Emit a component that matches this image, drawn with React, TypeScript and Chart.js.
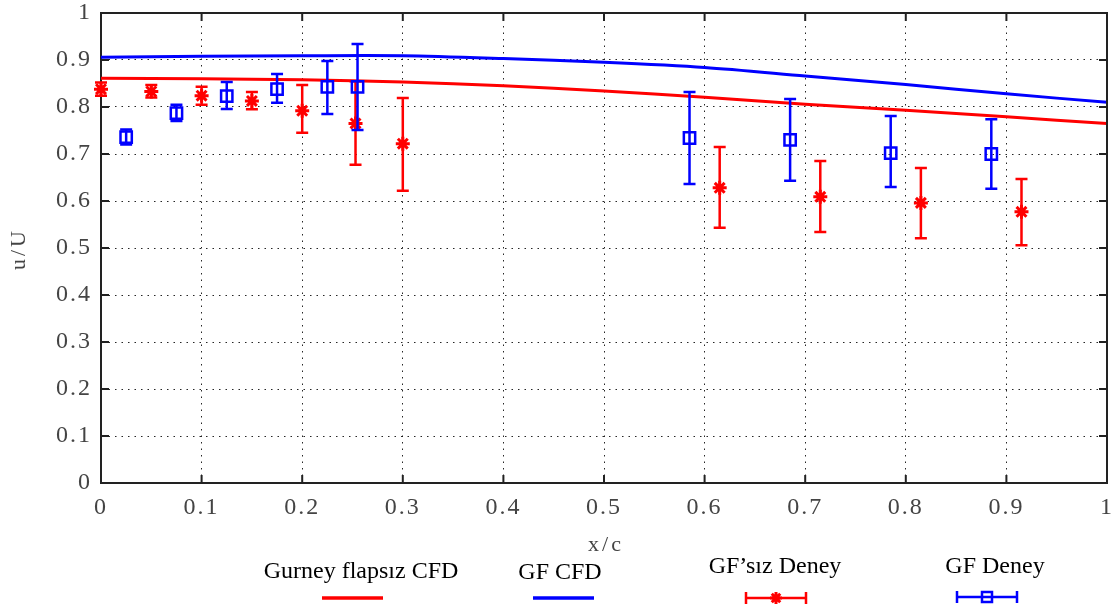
import React, { useEffect, useRef } from 'react';
import { Chart, registerables } from 'chart.js';

Chart.register(...registerables);

// ---- data ----
const cfdX = [0, 0.1, 0.2, 0.3, 0.4, 0.5, 0.6, 0.7, 0.8, 0.9, 1.0];
const gurneyFreeCfd = [0.861, 0.860, 0.858, 0.853, 0.845, 0.834, 0.821, 0.806, 0.793, 0.779, 0.765];
const gfCfd = [0.906, 0.908, 0.909, 0.909, 0.903, 0.895, 0.884, 0.866, 0.848, 0.828, 0.810];

const noGfExpX = [0, 0.05, 0.1, 0.15, 0.2, 0.253, 0.3, 0.615, 0.715, 0.815, 0.915];
const noGfExpY = [0.838, 0.833, 0.824, 0.813, 0.792, 0.765, 0.722, 0.628, 0.609, 0.596, 0.577];
const noGfExpLow = [0.824, 0.820, 0.805, 0.795, 0.745, 0.677, 0.622, 0.543, 0.534, 0.521, 0.506];
const noGfExpHigh = [0.852, 0.847, 0.843, 0.832, 0.847, 0.855, 0.819, 0.715, 0.685, 0.670, 0.647];

const gfExpX = [0.025, 0.075, 0.125, 0.175, 0.225, 0.255, 0.585, 0.685, 0.785, 0.885];
const gfExpY = [0.736, 0.787, 0.823, 0.838, 0.843, 0.843, 0.734, 0.730, 0.702, 0.700];
const gfExpLow = [0.720, 0.770, 0.796, 0.809, 0.785, 0.751, 0.636, 0.643, 0.630, 0.626];
const gfExpHigh = [0.752, 0.805, 0.853, 0.870, 0.898, 0.934, 0.832, 0.817, 0.781, 0.774];

const legendLabels = ['Gurney flapsız CFD', 'GF CFD', 'GF’sız Deney', 'GF Deney'];
const xTitle = 'x/c';
const yTitle = 'u/U';

const RED = '#ff0000';
const BLUE = '#0000ff';
const SERIF = '"Liberation Serif", "Times New Roman", serif';

const fmt = (v: number | string) => {
  const n = Number(v);
  if (Math.abs(n) < 1e-9) return '0';
  if (Math.abs(n - 1) < 1e-9) return '1';
  return n.toFixed(1);
};

const errorBarPlugin = {
  id: 'errbars',
  beforeDatasetDraw(chart: any, args: any) {
    const ds = chart.data.datasets[args.index] as any;
    if (!ds.errLow) return;
    const xs = chart.scales.x;
    const ys = chart.scales.y;
    const ctx = chart.ctx as CanvasRenderingContext2D;
    ctx.save();
    ctx.strokeStyle = ds.borderColor;
    ctx.lineWidth = 2.5;
    ds.data.forEach((p: any, i: number) => {
      const px = xs.getPixelForValue(p.x);
      const yl = ys.getPixelForValue(ds.errLow[i]);
      const yh = ys.getPixelForValue(ds.errHigh[i]);
      ctx.beginPath();
      ctx.moveTo(px, yl);
      ctx.lineTo(px, yh);
      ctx.moveTo(px - 6, yl);
      ctx.lineTo(px + 6, yl);
      ctx.moveTo(px - 6, yh);
      ctx.lineTo(px + 6, yh);
      ctx.stroke();
    });
    ctx.restore();
  },
};

const drawStar = (ctx: CanvasRenderingContext2D, x: number, y: number, r: number) => {
  ctx.beginPath();
  ctx.moveTo(x - r, y);
  ctx.lineTo(x + r, y);
  ctx.moveTo(x, y - r);
  ctx.lineTo(x, y + r);
  const d = r * Math.SQRT1_2;
  ctx.moveTo(x - d, y - d);
  ctx.lineTo(x + d, y + d);
  ctx.moveTo(x - d, y + d);
  ctx.lineTo(x + d, y - d);
  ctx.stroke();
};

const decorPlugin = {
  id: 'decor',
  beforeDraw(chart: any) {
    (chart.ctx as any).letterSpacing = '2px';
  },
  beforeDatasetsDraw(chart: any) {
    (chart.ctx as any).letterSpacing = '0px';
  },
  afterDraw(chart: any) {
    const ctx = chart.ctx as CanvasRenderingContext2D;
    const { left, right, top, bottom } = chart.chartArea;
    const xs = chart.scales.x;
    const ys = chart.scales.y;
    ctx.save();
    // frame top & right
    ctx.strokeStyle = '#222';
    ctx.lineWidth = 2;
    ctx.beginPath();
    ctx.moveTo(left - 1, top);
    ctx.lineTo(right, top);
    ctx.lineTo(right, bottom + 1);
    ctx.stroke();
    // inward ticks
    ctx.beginPath();
    xs.ticks.forEach((t: any) => {
      const px = xs.getPixelForValue(t.value);
      ctx.moveTo(px, bottom);
      ctx.lineTo(px, bottom - 8);
      ctx.moveTo(px, top);
      ctx.lineTo(px, top + 8);
    });
    ys.ticks.forEach((t: any) => {
      const py = ys.getPixelForValue(t.value);
      ctx.moveTo(left, py);
      ctx.lineTo(left + 8, py);
      ctx.moveTo(right, py);
      ctx.lineTo(right - 8, py);
    });
    ctx.stroke();

    // axis titles
    (ctx as any).letterSpacing = '3px';
    ctx.fillStyle = '#444';
    ctx.font = `22px ${SERIF}`;
    ctx.textAlign = 'center';
    ctx.textBaseline = 'middle';
    ctx.fillText(xTitle, 606, 545);
    ctx.save();
    ctx.translate(19, 249);
    ctx.rotate(-Math.PI / 2);
    ctx.fillText(yTitle, 0, 0);
    ctx.restore();

    // legend
    (ctx as any).letterSpacing = '0px';
    ctx.fillStyle = '#000';
    ctx.font = `24px ${SERIF}`;
    const textPos = [
      [361, 572],
      [560, 573],
      [775, 567],
      [995, 567],
    ];
    legendLabels.forEach((lab, i) => ctx.fillText(lab, textPos[i][0], textPos[i][1]));

    ctx.lineWidth = 3.5;
    ctx.strokeStyle = RED;
    ctx.beginPath();
    ctx.moveTo(322, 598);
    ctx.lineTo(383, 598);
    ctx.stroke();
    ctx.strokeStyle = BLUE;
    ctx.beginPath();
    ctx.moveTo(533, 598);
    ctx.lineTo(594, 598);
    ctx.stroke();

    const errSample = (x0: number, x1: number, y: number, color: string) => {
      ctx.strokeStyle = color;
      ctx.lineWidth = 2.5;
      ctx.beginPath();
      ctx.moveTo(x0, y);
      ctx.lineTo(x1, y);
      ctx.moveTo(x0, y - 6);
      ctx.lineTo(x0, y + 6);
      ctx.moveTo(x1, y - 6);
      ctx.lineTo(x1, y + 6);
      ctx.stroke();
    };
    errSample(746, 806, 598, RED);
    ctx.lineWidth = 3;
    drawStar(ctx, 776, 598, 6);
    errSample(957, 1017, 597, BLUE);
    ctx.lineWidth = 2.5;
    ctx.strokeRect(987 - 5, 597 - 5, 10, 10);
    ctx.restore();
  },
};

const zeroPad = (s: any) => {
  s.paddingTop = 0;
  s.paddingBottom = 0;
  s.paddingLeft = 0;
  s.paddingRight = 0;
};

export default function App() {
  const ref = useRef<HTMLCanvasElement | null>(null);

  useEffect(() => {
    if (!ref.current) return;
    const tickFont = { family: SERIF, size: 24 };
    const chart = new Chart(ref.current, {
      type: 'scatter',
      data: {
        datasets: [
          {
            type: 'line',
            label: legendLabels[0],
            data: cfdX.map((x, i) => ({ x, y: gurneyFreeCfd[i] })),
            borderColor: RED,
            borderWidth: 3,
            pointRadius: 0,
            fill: false,
            tension: 0.3,
            order: 4,
          } as any,
          {
            type: 'line',
            label: legendLabels[1],
            data: cfdX.map((x, i) => ({ x, y: gfCfd[i] })),
            borderColor: BLUE,
            borderWidth: 3,
            pointRadius: 0,
            fill: false,
            tension: 0.3,
            order: 3,
          } as any,
          {
            type: 'scatter',
            label: legendLabels[2],
            data: noGfExpX.map((x, i) => ({ x, y: noGfExpY[i] })),
            errLow: noGfExpLow,
            errHigh: noGfExpHigh,
            borderColor: RED,
            backgroundColor: RED,
            pointStyle: 'star',
            pointRadius: 7,
            borderWidth: 3,
            clip: false,
            order: 2,
          } as any,
          {
            type: 'scatter',
            label: legendLabels[3],
            data: gfExpX.map((x, i) => ({ x, y: gfExpY[i] })),
            errLow: gfExpLow,
            errHigh: gfExpHigh,
            borderColor: BLUE,
            backgroundColor: 'rgba(0,0,0,0)',
            pointStyle: 'rect',
            pointRadius: 8,
            borderWidth: 2.5,
            clip: false,
            order: 1,
          } as any,
        ],
      },
      options: {
        animation: false,
        responsive: false,
        maintainAspectRatio: false,
        devicePixelRatio: 1,
        layout: {
          autoPadding: false,
          padding: { left: 0, right: 11, top: 13, bottom: 52 },
        },
        plugins: {
          legend: { display: false },
          tooltip: { enabled: false },
        },
        events: [],
        scales: {
          x: {
            type: 'linear',
            min: 0,
            max: 1,
            afterFit: (s: any) => {
              s.height = 75;
              zeroPad(s);
            },
            ticks: {
              stepSize: 0.1,
              autoSkip: false,
              maxRotation: 0,
              padding: 10,
              color: '#444',
              font: tickFont,
              callback: (v: any) => fmt(v),
            },
            grid: {
              color: 'rgba(0,0,0,0.85)',
              lineWidth: 1,
              drawTicks: false,
            },
            border: { display: true, color: '#222', width: 2, dash: [1.5, 5] },
          },
          y: {
            type: 'linear',
            min: 0,
            max: 1,
            afterFit: (s: any) => {
              s.width = 101;
              zeroPad(s);
            },
            ticks: {
              stepSize: 0.1,
              autoSkip: false,
              padding: 9,
              color: '#444',
              font: tickFont,
              callback: (v: any) => fmt(v),
            },
            grid: {
              color: 'rgba(0,0,0,0.85)',
              lineWidth: 1,
              drawTicks: false,
            },
            border: { display: true, color: '#222', width: 2, dash: [1.5, 5] },
          },
        },
      } as any,
      plugins: [errorBarPlugin, decorPlugin],
    });
    return () => chart.destroy();
  }, []);

  return (
    <div
      style={{
        position: 'fixed',
        left: 0,
        top: 0,
        width: 1118,
        height: 610,
        background: '#fff',
      }}
    >
      <canvas ref={ref} width={1118} height={610} style={{ display: 'block' }} />
    </div>
  );
}
